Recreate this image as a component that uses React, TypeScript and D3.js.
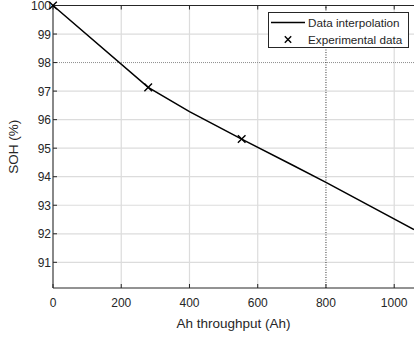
import React, { useEffect, useRef } from "react";
import * as d3 from "d3";

// interpolation curve (Ah, SOH %)
const curveAh = [0, 279, 400, 553, 700, 800, 1058];
const curveSoh = [100, 97.13, 96.28, 95.32, 94.42, 93.8, 92.15];

// experimental points
const expAh = [0, 279, 553];
const expSoh = [100, 97.13, 95.32];

const xTicks = [0, 200, 400, 600, 800, 1000];
const yTicks = [91, 92, 93, 94, 95, 96, 97, 98, 99, 100];

const legendLabels = ["Data interpolation", "Experimental data"];

export default function App() {
  const svgRef = useRef(null);

  useEffect(() => {
    const W = 414;
    const H = 337;
    const margin = { top: 5.5, right: 0, bottom: 49, left: 53 };

    const svg = d3.select(svgRef.current).attr("width", W).attr("height", H);
    svg.selectAll("*").remove();

    const x = d3.scaleLinear().domain([0, 1058]).range([margin.left, W - margin.right]);
    const y = d3.scaleLinear().domain([90.1, 100]).range([H - margin.bottom, margin.top]);

    const font = "'Liberation Sans', Arial, sans-serif";
    const axisColor = "#262626";

    // grid
    const grid = svg.append("g");
    xTicks.forEach((t) => {
      if (t === 800) return;
      grid.append("line")
        .attr("x1", x(t)).attr("x2", x(t))
        .attr("y1", y(90.1)).attr("y2", y(100))
        .attr("stroke", "#dcdcdc").attr("stroke-width", 1.2);
    });
    yTicks.forEach((t) => {
      if (t === 98) return;
      grid.append("line")
        .attr("x1", x(0)).attr("x2", W)
        .attr("y1", y(t)).attr("y2", y(t))
        .attr("stroke", "#dcdcdc").attr("stroke-width", 1.2);
    });

    // reference lines: SOH 98 % and 800 Ah
    svg.append("line")
      .attr("x1", x(0)).attr("x2", W)
      .attr("y1", y(98)).attr("y2", y(98))
      .attr("stroke", "#8c8c8c").attr("stroke-width", 1)
      .attr("stroke-dasharray", "1,1");
    svg.append("line")
      .attr("x1", x(800)).attr("x2", x(800))
      .attr("y1", y(90.1)).attr("y2", y(100))
      .attr("stroke", "#333").attr("stroke-width", 1)
      .attr("stroke-dasharray", "1,1.5");

    // axes box
    svg.append("line")
      .attr("x1", x(0)).attr("x2", W)
      .attr("y1", y(90.1)).attr("y2", y(90.1))
      .attr("stroke", axisColor);
    svg.append("line")
      .attr("x1", x(0)).attr("x2", W)
      .attr("y1", y(100)).attr("y2", y(100))
      .attr("stroke", axisColor);
    svg.append("line")
      .attr("x1", x(0)).attr("x2", x(0))
      .attr("y1", y(90.1)).attr("y2", y(100))
      .attr("stroke", axisColor);

    // ticks (inward)
    xTicks.forEach((t) => {
      svg.append("line")
        .attr("x1", x(t)).attr("x2", x(t))
        .attr("y1", y(90.1)).attr("y2", y(90.1) - 4)
        .attr("stroke", axisColor);
      svg.append("line")
        .attr("x1", x(t)).attr("x2", x(t))
        .attr("y1", y(100)).attr("y2", y(100) + 4)
        .attr("stroke", axisColor);
      svg.append("text")
        .attr("x", x(t)).attr("y", y(90.1) + 18.5)
        .attr("text-anchor", "middle")
        .attr("font-family", font).attr("font-size", 12)
        .attr("fill", axisColor)
        .text(t);
    });
    yTicks.forEach((t) => {
      svg.append("line")
        .attr("x1", x(0)).attr("x2", x(0) + 4)
        .attr("y1", y(t)).attr("y2", y(t))
        .attr("stroke", axisColor);
      svg.append("text")
        .attr("x", x(0) - 2).attr("y", y(t) + 0.5)
        .attr("dy", "0.35em")
        .attr("text-anchor", "end")
        .attr("font-family", font).attr("font-size", 12)
        .attr("fill", axisColor)
        .text(t);
    });

    // axis labels
    svg.append("text")
      .attr("x", (x(0) + W) / 2).attr("y", 328)
      .attr("text-anchor", "middle")
      .attr("font-family", font).attr("font-size", 13.5)
      .attr("fill", axisColor)
      .text("Ah throughput (Ah)");
    svg.append("text")
      .attr("transform", `translate(18,${(y(90.1) + y(100)) / 2}) rotate(-90)`)
      .attr("text-anchor", "middle")
      .attr("font-family", font).attr("font-size", 13.5)
      .attr("fill", axisColor)
      .text("SOH (%)");

    // interpolation line
    const line = d3.line<number>()
      .x((d, i) => x(curveAh[i]))
      .y((d) => y(d));
    svg.append("path")
      .datum(curveSoh)
      .attr("d", line)
      .attr("fill", "none")
      .attr("stroke", "#000")
      .attr("stroke-width", 1.5);

    // experimental markers
    const cross = (g, cx, cy, s) => {
      g.append("path")
        .attr("d", `M${cx - s},${cy - s}L${cx + s},${cy + s}M${cx - s},${cy + s}L${cx + s},${cy - s}`)
        .attr("stroke", "#000").attr("stroke-width", 1.4).attr("fill", "none");
    };
    expAh.forEach((a, i) => cross(svg, x(a), y(expSoh[i]), 3.8));

    // legend
    const lg = svg.append("g");
    lg.append("rect")
      .attr("x", 268.5).attr("y", 12.5)
      .attr("width", 140).attr("height", 35)
      .attr("fill", "#fff").attr("stroke", axisColor).attr("stroke-width", 1);
    lg.append("line")
      .attr("x1", 271).attr("x2", 305)
      .attr("y1", 22.5).attr("y2", 22.5)
      .attr("stroke", "#000").attr("stroke-width", 1.6);
    cross(lg, 288, 39.5, 3.2);
    legendLabels.forEach((l, i) => {
      lg.append("text")
        .attr("x", 308).attr("y", 22.5 + i * 17)
        .attr("dy", "0.35em")
        .attr("font-family", font).attr("font-size", 11.7)
        .attr("fill", axisColor)
        .text(l);
    });
  }, []);

  return (
    <div>
      <svg ref={svgRef} style={{ position: "absolute", left: 0, top: 0 }}></svg>
    </div>
  );
}
